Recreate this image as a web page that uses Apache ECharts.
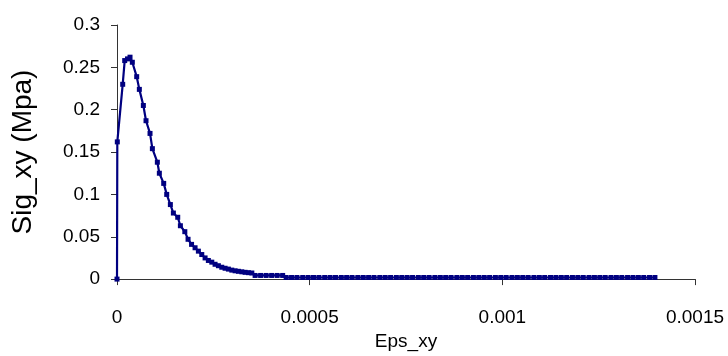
<!DOCTYPE html>
<html>
<head>
<meta charset="utf-8">
<script src="https://cdn.jsdelivr.net/npm/echarts@6/dist/echarts.min.js"></script>
<style>
html,body{margin:0;padding:0;background:#fff;}
#chart{width:728px;height:356px;}
</style>
</head>
<body>
<div id="chart"></div>
<script>
// Strain values (Eps_xy)
const eps = [
  0, 0.0000008, 0.0000148, 0.0000200, 0.0000273, 0.0000338, 0.0000398, 0.0000511, 0.0000580, 0.0000684,
  0.0000753, 0.0000857, 0.0000918, 0.0001047, 0.0001099, 0.0001212, 0.0001290, 0.0001385, 0.0001463, 0.0001576,
  0.0001645, 0.0001760, 0.0001844, 0.0001935, 0.0002026, 0.0002112, 0.0002200, 0.0002286, 0.0002371, 0.0002460,
  0.0002545, 0.0002631, 0.0002719, 0.0002805, 0.0002891, 0.0002979, 0.0003065, 0.0003151, 0.0003239, 0.0003325,
  0.0003410, 0.0003499,
  0.0003584, 0.0003727, 0.0003870, 0.0004013, 0.0004156, 0.0004299,
  0.000439, 0.000453, 0.000467, 0.000482, 0.000496, 0.000510, 0.000524, 0.000539, 0.000553, 0.000567,
  0.000582, 0.000596, 0.000610, 0.000625, 0.000639, 0.000653, 0.000667, 0.000682, 0.000696, 0.000710,
  0.000725, 0.000739, 0.000753, 0.000767, 0.000782, 0.000796, 0.000810, 0.000825, 0.000839, 0.000853,
  0.000867, 0.000882, 0.000896, 0.000910, 0.000925, 0.000939, 0.000953, 0.000967, 0.000982, 0.000996,
  0.001010, 0.001025, 0.001039, 0.001053, 0.001067, 0.001082, 0.001096, 0.001110, 0.001125, 0.001139,
  0.001153, 0.001167, 0.001182, 0.001196, 0.001210, 0.001225, 0.001239, 0.001253, 0.001267, 0.001282,
  0.001296, 0.001310, 0.001325, 0.001339, 0.001353, 0.001367, 0.001382, 0.001396
];
// Stress values (Sig_xy, MPa)
const sig = [
  0, 0.162, 0.230, 0.258, 0.260, 0.262, 0.256, 0.239, 0.224, 0.205,
  0.187, 0.172, 0.154, 0.138, 0.125, 0.113, 0.100, 0.088, 0.078, 0.073,
  0.063, 0.056, 0.047, 0.041, 0.037, 0.033, 0.029, 0.025, 0.022, 0.020,
  0.0175, 0.0158, 0.0140, 0.0128, 0.0118, 0.0106, 0.0098, 0.0092, 0.0086, 0.0080,
  0.0076, 0.0072,
  0.0043, 0.0043, 0.0043, 0.0043, 0.0043, 0.0043,
  0.0019, 0.0019, 0.0019, 0.0019, 0.0019, 0.0019, 0.0019, 0.0019, 0.0019, 0.0019,
  0.0019, 0.0019, 0.0019, 0.0019, 0.0019, 0.0019, 0.0019, 0.0019, 0.0019, 0.0019,
  0.0019, 0.0019, 0.0019, 0.0019, 0.0019, 0.0019, 0.0019, 0.0019, 0.0019, 0.0019,
  0.0019, 0.0019, 0.0019, 0.0019, 0.0019, 0.0019, 0.0019, 0.0019, 0.0019, 0.0019,
  0.0019, 0.0019, 0.0019, 0.0019, 0.0019, 0.0019, 0.0019, 0.0019, 0.0019, 0.0019,
  0.0019, 0.0019, 0.0019, 0.0019, 0.0019, 0.0019, 0.0019, 0.0019, 0.0019, 0.0019,
  0.0019, 0.0019, 0.0019, 0.0019, 0.0019, 0.0019, 0.0019, 0.0019
];
const xTickLabels = ['0', '0.0005', '0.001', '0.0015'];
const yTickLabels = ['0', '0.05', '0.1', '0.15', '0.2', '0.25', '0.3'];
const xStep = 0.0005, yStep = 0.05;
const xName = 'Eps_xy';
const yName = 'Sig_xy (Mpa)';

const font = '"Liberation Sans", Arial, sans-serif';
const axisColor = '#333';

const chart = echarts.init(document.getElementById('chart'), null, {renderer: 'canvas'});
chart.setOption({
  animation: false,
  backgroundColor: '#fff',
  grid: {left: 117, right: 33, top: 25, bottom: 68},
  xAxis: {
    type: 'value', min: 0, max: xStep * (xTickLabels.length - 1), interval: xStep,
    name: xName, nameLocation: 'middle', nameGap: 44,
    nameTextStyle: {fontFamily: font, fontSize: 19, color: '#000'},
    axisLine: {show: true, lineStyle: {color: axisColor, width: 1}},
    axisTick: {show: true, inside: false, length: 6, lineStyle: {color: axisColor}},
    axisLabel: {fontFamily: font, fontSize: 19, color: '#000', margin: 29,
      formatter: v => xTickLabels[Math.round(v / xStep)]},
    splitLine: {show: false}
  },
  yAxis: {
    type: 'value', min: 0, max: yStep * (yTickLabels.length - 1), interval: yStep,
    name: yName, nameLocation: 'middle', nameGap: 80,
    nameTextStyle: {fontFamily: font, fontSize: 28, color: '#000'},
    axisLine: {show: true, lineStyle: {color: axisColor, width: 1}},
    axisTick: {show: true, inside: false, length: 6, lineStyle: {color: axisColor}},
    axisLabel: {fontFamily: font, fontSize: 19, color: '#000', margin: 17,
      formatter: v => yTickLabels[Math.round(v / yStep)]},
    splitLine: {show: false}
  },
  series: [{
    type: 'line',
    data: eps.map((e, i) => [e, sig[i]]),
    symbol: 'rect',
    symbolSize: 5,
    showAllSymbol: true,
    lineStyle: {color: '#000080', width: 2.2},
    itemStyle: {color: '#000080'},
    smooth: false
  }]
});
</script>
</body>
</html>
